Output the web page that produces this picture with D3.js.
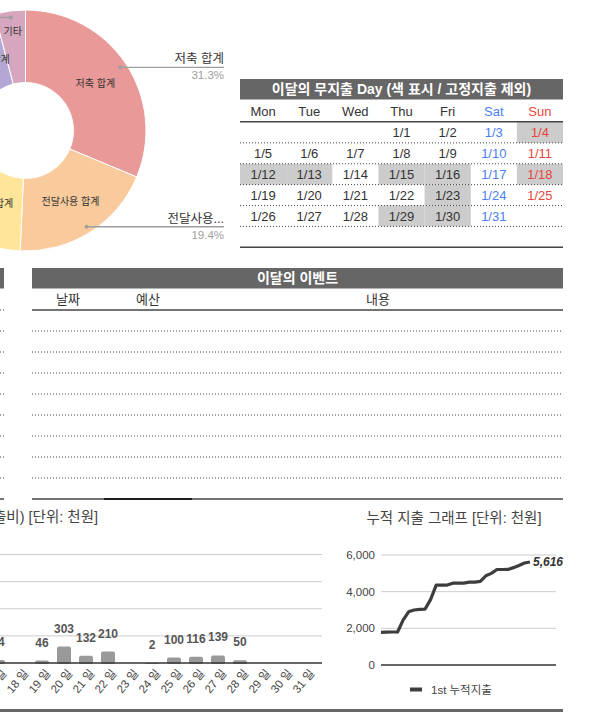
<!DOCTYPE html>
<html>
<head>
<meta charset="utf-8">
<script src="https://cdn.jsdelivr.net/npm/d3@7"></script>
<style>
  body { margin: 0; background: #fff; }
  svg { display: block; font-family: "Liberation Sans", Arial, "Noto Sans CJK KR", sans-serif; }
</style>
</head>
<body>
<svg id="board" width="592" height="712"></svg>
<script>
// --- 데이터 ---
// 지출 구성 (%)
const pieNames = ["저축 합계", "전달사용 합계", "고정지출 합계", "변동지출 합계", "생활비 합계", "충동지출 합계", "기타"];
const pieValues = [31.3, 19.4, 15, 12.5, 8, 9.7, 4.1];
const pieColors = ["#ea9999", "#f9cb9c", "#ffe599", "#b6d7a8", "#a4c2f4", "#b4a7d6", "#d5a6bd"];
const pieCallouts = ["저축 합계", "전달사용 합계", "기타"];

// 달력
const weekDays = ["Mon", "Tue", "Wed", "Thu", "Fri", "Sat", "Sun"];
const monthDays = d3.range(1, 32);
const firstWeekday = 3; // 1/1 = Thu
const noSpendDays = [4, 12, 13, 15, 16, 18, 23, 29, 30];

// 이벤트 표
const eventCols = ["날짜", "예산", "내용"];

// 일별 지출 (천원)
const barDays = [17, 18, 19, 20, 21, 22, 23, 24, 25, 26, 27, 28, 29, 30, 31];
const barValues = [54, null, 46, 303, 132, 210, null, 2, 100, 116, 139, 50, null, null, null];
const barTicks = [500, 1000, 1500, 2000];

// 누적 지출 (천원)
const cumDays = d3.range(1, 29);
const cumValues = [1780, 1790, 1800, 1800, 2450, 2900, 3000, 3030, 3050, 3580, 4360, 4360, 4360, 4464,
                   4464, 4464, 4518, 4518, 4564, 4867, 4999, 5209, 5209, 5211, 5311, 5427, 5566, 5616];
const cumTicks = [0, 2000, 4000, 6000];

const svg = d3.select("#board");
const dark = "#666666";

// ---------- donut ----------
{
  const cx = 25.5, cy = 130.5, rOut = 120.5, rIn = 48;
  const polar = (a, r) => [cx + r * Math.sin(a), cy - r * Math.cos(a)];
  const slices = d3.pie().sort(null).value(d => d.v)(
    pieNames.map((n, i) => ({ n, v: pieValues[i], c: pieColors[i] })));
  const arc = d3.arc().innerRadius(rIn).outerRadius(rOut);
  const g = svg.append("g");
  g.append("g").attr("transform", `translate(${cx},${cy})`)
    .selectAll("path").data(slices).join("path")
    .attr("d", arc)
    .attr("fill", d => d.data.c)
    .attr("stroke", "#fff").attr("stroke-width", 1);

  g.selectAll("text.in").data(slices).join("text")
    .attr("class", "in")
    .each(function (d) {
      const [x, y] = polar((d.startAngle + d.endAngle) / 2, d.data.v < 5 ? 100 : 84);
      d3.select(this).attr("x", x).attr("y", y);
    })
    .attr("dy", "0.35em").attr("text-anchor", "middle")
    .attr("font-size", 10).attr("fill", "#333")
    .text(d => d.data.n);

  const callouts = slices.filter(d => pieCallouts.includes(d.data.n));
  callouts.forEach(d => {
    const mid = (d.startAngle + d.endAngle) / 2;
    const [x, y] = polar(mid, 114);
    const right = Math.sin(mid) > 0;
    const x2 = right ? 224 : -100;
    g.append("line").attr("x1", x).attr("y1", y).attr("x2", x2).attr("y2", y)
      .attr("stroke", "#9e9e9e").attr("stroke-width", 1.3);
    g.append("circle").attr("cx", x).attr("cy", y).attr("r", 2).attr("fill", "#9e9e9e");
    const name = d.data.n.length > 5 ? d.data.n.slice(0, 4) + "..." : d.data.n;
    g.append("text").attr("x", x2).attr("y", y - 4).attr("text-anchor", right ? "end" : "start")
      .attr("font-size", 12.5).attr("fill", "#333").text(name);
    g.append("text").attr("x", x2).attr("y", y + 12).attr("text-anchor", right ? "end" : "start")
      .attr("font-size", 11.5).attr("fill", "#9e9e9e").text(d3.format(".1f")(d.data.v) + "%");
  });
}

// ---------- calendar ----------
{
  const g = svg.append("g");
  const col = d3.scaleBand().domain(weekDays).range([240, 563]);
  const row = d3.scaleBand().domain(d3.range(6)).range([122, 247.3]);
  g.append("rect").attr("x", 240).attr("y", 79).attr("width", 323).attr("height", 20.5).attr("fill", dark);
  g.append("text").attr("x", 401.5).attr("y", 89.5).attr("dy", "0.35em").attr("text-anchor", "middle")
    .attr("font-size", 14).attr("font-weight", "bold").attr("fill", "#fff")
    .text("이달의 무지출 Day (색 표시 / 고정지출 제외)");
  const dayColor = w => w === "Sat" ? "#4a7ff0" : w === "Sun" ? "#e8453c" : "#333";
  g.selectAll("text.wd").data(weekDays).join("text").attr("class", "wd")
    .attr("x", d => col(d) + col.bandwidth() / 2).attr("y", 111.5).attr("dy", "0.35em")
    .attr("text-anchor", "middle").attr("font-size", 13).attr("fill", dayColor).text(d => d);

  const cells = monthDays.map(d => {
    const k = d - 1 + firstWeekday;
    return { d, w: weekDays[k % 7], r: Math.floor(k / 7) };
  });
  g.selectAll("rect.ns").data(cells.filter(c => noSpendDays.includes(c.d))).join("rect").attr("class", "ns")
    .attr("x", c => col(c.w)).attr("y", c => row(c.r)).attr("width", col.bandwidth()).attr("height", row.bandwidth())
    .attr("fill", "#cccccc");
  g.selectAll("text.dt").data(cells).join("text").attr("class", "dt")
    .attr("x", c => col(c.w) + col.bandwidth() / 2).attr("y", c => row(c.r) + row.bandwidth() / 2 + 0.5)
    .attr("dy", "0.35em").attr("text-anchor", "middle").attr("font-size", 13)
    .attr("fill", c => dayColor(c.w)).text(c => `1/${c.d}`);

  g.selectAll("line.dot").data(d3.range(5)).join("line").attr("class", "dot")
    .attr("x1", 240).attr("x2", 563)
    .attr("y1", r => row(r) + row.bandwidth()).attr("y2", r => row(r) + row.bandwidth())
    .attr("stroke", "#444").attr("stroke-dasharray", "1,2");
  [121.7, 247.3].forEach(y => g.append("line").attr("x1", 240).attr("x2", 563).attr("y1", y).attr("y2", y)
    .attr("stroke", "#444").attr("stroke-width", 1.5));
}

// ---------- event table (+ sliver of the table to its left) ----------
{
  const g = svg.append("g");
  const rowEdges = d3.range(10).map(i => 310 + i * 21);
  const tables = [[-120, 4], [32, 563]];
  tables.forEach(([x0, x1], ti) => {
    g.append("rect").attr("x", x0).attr("y", 268).attr("width", x1 - x0).attr("height", 20.5).attr("fill", dark);
    rowEdges.forEach((y, i) => {
      const solid = i === rowEdges.length - 1 || (ti === 1 && i === 0);
      g.append("line").attr("x1", x0).attr("x2", x1).attr("y1", y).attr("y2", y)
        .attr("stroke", "#444").attr("stroke-width", solid ? 1.5 : 1)
        .attr("stroke-dasharray", solid ? null : "1,2");
    });
  });
  g.append("line").attr("x1", 104).attr("x2", 192).attr("y1", 499).attr("y2", 499)
    .attr("stroke", "#000").attr("stroke-width", 1.5);
  g.append("text").attr("x", 297.5).attr("y", 278.5).attr("dy", "0.35em").attr("text-anchor", "middle")
    .attr("font-size", 14).attr("font-weight", "bold").attr("fill", "#fff").text("이달의 이벤트");
  const colCenters = [68, 148, 378];
  g.selectAll("text.ec").data(eventCols).join("text").attr("class", "ec")
    .attr("x", (d, i) => colCenters[i]).attr("y", 299).attr("dy", "0.35em").attr("text-anchor", "middle")
    .attr("font-size", 13).attr("fill", "#333").text(d => d);
}

// ---------- daily bar chart ----------
{
  const g = svg.append("g");
  const x = d3.scaleLinear().domain([20, 22]).range([64, 108]);
  const y = d3.scaleLinear().domain([0, 2000]).range([663, 554.5]);
  g.append("text").attr("x", 98).attr("y", 517).attr("dy", "0.35em").attr("text-anchor", "end")
    .attr("font-size", 14.5).attr("fill", "#444").text("일별 지출 그래프 (생활비 + 충동지출비) [단위: 천원]");
  g.selectAll("line.grid").data(barTicks).join("line").attr("class", "grid")
    .attr("x1", -50).attr("x2", 322).attr("y1", d => y(d)).attr("y2", d => y(d))
    .attr("stroke", "#cccccc");
  const data = barDays.map((d, i) => ({ d, v: barValues[i] }));
  const has = data.filter(o => o.v != null);
  g.selectAll("rect.bar").data(has).join("rect").attr("class", "bar")
    .attr("x", o => x(o.d) - 7).attr("width", 14)
    .attr("y", o => y(o.v)).attr("height", o => y(0) - y(o.v) + 1)
    .attr("rx", 2).attr("fill", "#999999");
  g.append("line").attr("x1", -50).attr("x2", 322).attr("y1", y(0)).attr("y2", y(0))
    .attr("stroke", "#333").attr("stroke-width", 1.3);
  g.selectAll("text.val").data(has).join("text").attr("class", "val")
    .attr("x", o => x(o.d)).attr("y", o => y(o.v) - 14)
    .attr("text-anchor", "middle").attr("font-size", 12).attr("font-weight", "bold").attr("fill", "#555")
    .text(o => o.v);
  g.selectAll("text.tick").data(barDays).join("text").attr("class", "tick")
    .attr("transform", d => `translate(${x(d) + 6},${671}) rotate(-50)`)
    .attr("dy", "0.35em").attr("text-anchor", "end").attr("font-size", 11.5).attr("fill", "#444")
    .text(d => `${d} 일`);
}

// ---------- cumulative line chart ----------
{
  const g = svg.append("g");
  const x = d3.scaleLinear().domain([1, 28]).range([381, 530]);
  const y = d3.scaleLinear().domain([0, 6000]).range([665, 555]);
  g.append("text").attr("x", 454).attr("y", 518).attr("dy", "0.35em").attr("text-anchor", "middle")
    .attr("font-size", 14.5).attr("fill", "#444").text("누적 지출 그래프 [단위: 천원]");
  g.selectAll("line.grid").data(cumTicks).join("line").attr("class", "grid")
    .attr("x1", 381).attr("x2", 556).attr("y1", d => y(d)).attr("y2", d => y(d))
    .attr("stroke", d => d === 0 ? "#333" : "#cccccc").attr("stroke-width", d => d === 0 ? 1.3 : 1);
  g.selectAll("text.yt").data(cumTicks).join("text").attr("class", "yt")
    .attr("x", 375).attr("y", d => y(d)).attr("dy", "0.35em").attr("text-anchor", "end")
    .attr("font-size", 11.5).attr("fill", "#444").text(d3.format(","));
  const pts = cumDays.map((d, i) => [d, cumValues[i]]);
  g.append("path").datum(pts)
    .attr("d", d3.line().x(p => x(p[0])).y(p => y(p[1])))
    .attr("fill", "none").attr("stroke", "#3d3d3d").attr("stroke-width", 3.2)
    .attr("stroke-linejoin", "round");
  const last = pts[pts.length - 1];
  g.append("text").attr("x", x(last[0]) + 3).attr("y", y(last[1])).attr("dy", "0.35em")
    .attr("font-size", 12).attr("font-weight", "bold").attr("font-style", "italic").attr("fill", "#333")
    .text(d3.format(",")(last[1]));
  g.append("line").attr("x1", 410).attr("x2", 422).attr("y1", 689.5).attr("y2", 689.5)
    .attr("stroke", "#3d3d3d").attr("stroke-width", 4);
  g.append("text").attr("x", 431).attr("y", 689.5).attr("dy", "0.35em")
    .attr("font-size", 11.5).attr("fill", "#444").text("1st 누적지출");
}

// bottom rule
svg.append("rect").attr("x", 0).attr("y", 709).attr("width", 563).attr("height", 3).attr("fill", dark);
</script>
</body>
</html>
